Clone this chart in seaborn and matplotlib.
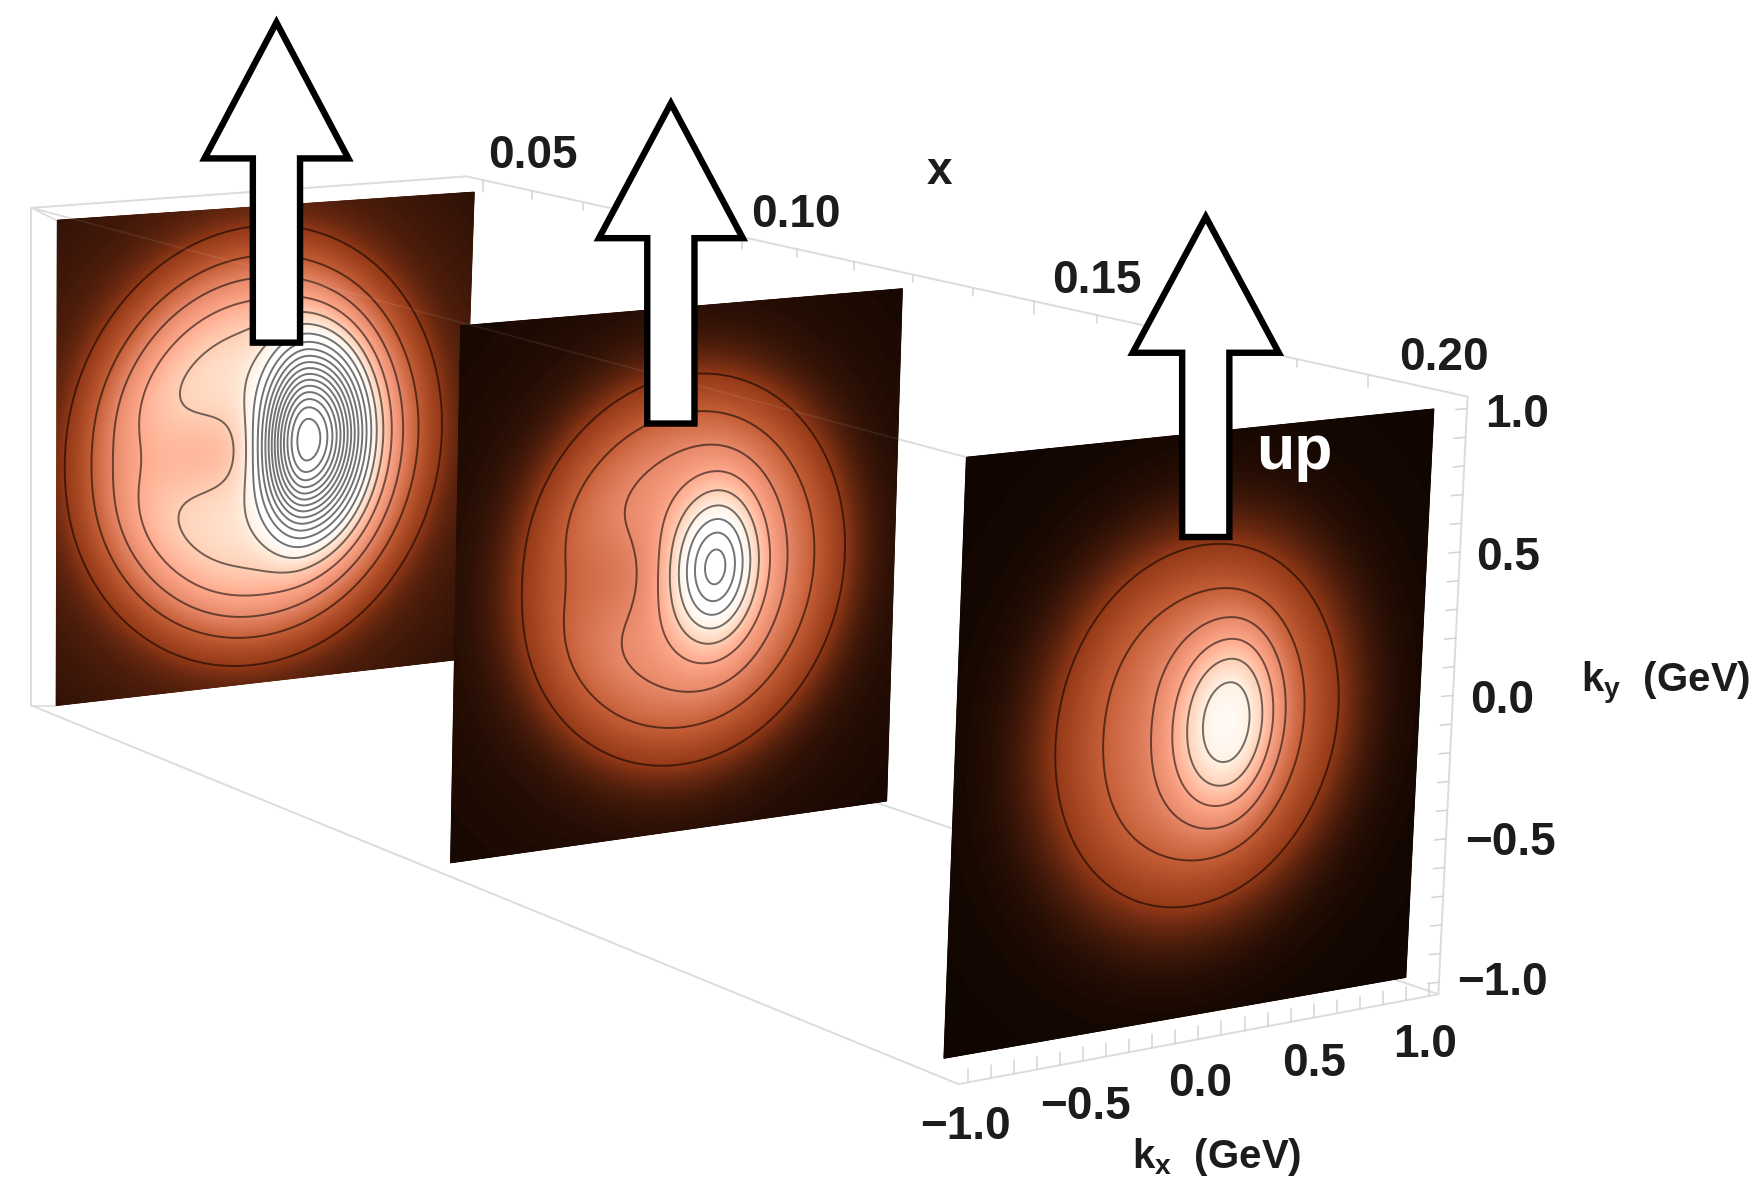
import numpy as np
import matplotlib
matplotlib.use("Agg")
import matplotlib.pyplot as plt
from matplotlib.patches import Polygon
import seaborn as sns

# ---- text ----
x_labels = ["0.05", "0.10", "0.15", "0.20"]
k_labels = ["\u22121.0", "\u22120.5", "0.0", "0.5", "1.0"]

# ---- estimated surface parameters per slice (read from the contour rings) ----
base_amp   = [4.8,  3.0,  2.8]
base_width = [0.76, 0.68, 0.58]
base_pow   = [4.5,  4.0,  3.0]
base_kx    = [-0.045, 0.02, 0.015]
tail_amp   = [1.0,  0.5,  0.3]
tail_width = [1.2,  1.0,  0.8]
peak_amp   = [14.0, 6.0,  3.6]
peak_kx    = [0.205, 0.16, 0.15]
peak_ky    = [0.02, 0.0,  0.0]
peak_left  = [0.20, 0.19, 0.23]
peak_right = [0.25, 0.18, 0.20]
peak_up    = [0.34, 0.26, 0.29]
peak_pow   = [2.3,  1.9,  2.4]
dip_amp    = [1.3,  0.75, 0.30]
dip_kx     = [-0.30, -0.30, -0.25]
dip_wx     = [0.33, 0.28, 0.30]
dip_wy     = [0.20, 0.22, 0.30]
levels = np.arange(1, 26)

# ---- layout, in reference pixels (1568 wide view) ----
panel_corners = [
    [(51, 196), (422, 171), (408, 587), (50, 628)],
    [(410, 290), (803, 257), (789, 713), (401, 768)],
    [(860, 407), (1276, 364), (1251, 870), (840, 942)],
]
arrows = [(246, 20, 141, 64, 21, 305), (597, 92, 212, 64, 21, 377), (1073, 193, 314, 65, 21, 478)]

sns.set_theme(style="white")
plt.rcParams["font.family"] = ["Liberation Sans", "DejaVu Sans"]
plt.rcParams["mathtext.fontset"] = "custom"
plt.rcParams["mathtext.bf"] = "Liberation Sans:bold"
plt.rcParams["mathtext.rm"] = "Liberation Sans"

cmap = sns.blend_palette(["#100500", "#963a18", "#c65f38", "#e8896a", "#ffa98c",
                          "#ffd0b6", "#fff1e2", "#ffffff", "#ffffff"], n_colors=256, as_cmap=True)

fig = plt.figure(figsize=(17.62, 11.83), dpi=100, facecolor="white")
ax = fig.add_axes([0, 0, 1, 1])
ax.set_xlim(0, 1568)
ax.set_ylim(1053, 0)
ax.axis("off")


def homography(corners):
    src = [(-1, 1), (1, 1), (1, -1), (-1, -1)]
    A, b = [], []
    for (u, v), (px, py) in zip(src, corners):
        A.append([u, v, 1, 0, 0, 0, -u * px, -v * px]); b.append(px)
        A.append([0, 0, 0, u, v, 1, -u * py, -v * py]); b.append(py)
    return np.append(np.linalg.solve(np.array(A, float), np.array(b, float)), 1).reshape(3, 3)


def surface(i, kx, ky):
    r = np.hypot(kx - base_kx[i], ky)
    base = base_amp[i] * np.exp(-(r / base_width[i]) ** base_pow[i])
    tail = tail_amp[i] * np.exp(-(r / tail_width[i]) ** 2)
    dx = kx - peak_kx[i]
    sx = np.where(dx < 0, peak_left[i], peak_right[i])
    rho = np.sqrt((dx / sx) ** 2 + ((ky - peak_ky[i]) / peak_up[i]) ** 2)
    peak = peak_amp[i] * np.exp(-rho ** peak_pow[i])
    dip = dip_amp[i] * np.exp(-(((kx - dip_kx[i]) / dip_wx[i]) ** 2 + (ky / dip_wy[i]) ** 2))
    return base + tail + peak - dip


def edge(ax, p, q, **kw):
    ax.plot([p[0], q[0]], [p[1], q[1]], color="#dcdcdc", lw=1.4, solid_capstyle="round", **kw)


# bounding box
BLT, BRT, FRT = (28, 185), (415, 157), (1306, 353)
FRB, FLB, BLB = (1280, 885), (853, 965), (28, 628)
BRB = (415, 590)
for p, q in [(BLT, BRT), (BLT, BLB), (BRT, FRT), (FRT, FRB), (FRB, FLB), (FLB, BLB), (BRB, FRB)]:
    edge(ax, p, q, zorder=1)
ax.plot([BLT[0], 50], [BLT[1], 196], color="#dcdcdc", lw=1.2, zorder=1)
ax.plot([BLB[0], 50], [BLB[1], 628], color="#dcdcdc", lw=1.2, zorder=1)
edge(ax, BLT, (860, 407), zorder=1)

# tick marks along the three labelled edges
for xv in np.arange(0.05, 0.2001, 0.01):
    t = xv - 0.05
    sx = 430 + 4333 * t / (1 - 1.161 * t)
    frac = (sx - BRT[0]) / (FRT[0] - BRT[0])
    sy = BRT[1] + frac * (FRT[1] - BRT[1])
    ln = 11 if abs((xv * 100) % 5) < 0.01 or abs((xv * 100) % 5 - 5) < 0.01 else 7
    ax.plot([sx, sx], [sy, sy + ln], color="#d4d4d4", lw=1.1, zorder=1)
for f in np.linspace(0.02, 0.98, 21):
    sx = FRT[0] + f * (FRB[0] - FRT[0])
    sy = FRT[1] + f * (FRB[1] - FRT[1])
    ax.plot([sx, sx - 10], [sy, sy + 1], color="#d4d4d4", lw=1.1, zorder=1)
    sx = FLB[0] + f * (FRB[0] - FLB[0])
    sy = FLB[1] + f * (FRB[1] - FLB[1])
    ax.plot([sx, sx], [sy, sy - 12], color="#d4d4d4", lw=1.1, zorder=1)

# slices
grid = np.linspace(-1, 1, 401)
KX, KY = np.meshgrid(grid, grid)
for i, corners in enumerate(panel_corners):
    H = homography(corners)
    w = H[2, 0] * KX + H[2, 1] * KY + H[2, 2]
    X = (H[0, 0] * KX + H[0, 1] * KY + H[0, 2]) / w
    Y = (H[1, 0] * KX + H[1, 1] * KY + H[1, 2]) / w
    F = surface(i, KX, KY)
    z = 2 + i
    ax.pcolormesh(X, Y, F, cmap=cmap, vmin=0, vmax=8, shading="gouraud", zorder=z, rasterized=True)
    ax.contour(X, Y, F, levels=levels, colors="black", linewidths=1.4, alpha=0.55, zorder=z + 0.1)

# faint box edge seen through the slices
ax.plot([BLT[0], 860], [BLT[1], 407], color="white", alpha=0.08, lw=1.2, zorder=6)

# arrows
for tx, ty, hy, hw, sw, by in arrows:
    ax.add_patch(Polygon([(tx, ty), (tx + hw, hy), (tx + sw, hy), (tx + sw, by), (tx - sw, by),
                          (tx - sw, hy), (tx - hw, hy)], closed=True, facecolor="white",
                         edgecolor="black", lw=4.6, joinstyle="miter", zorder=8))

# labels
tk = dict(fontsize=33, fontweight="bold", color="#1c1c1c", ha="center", va="center", zorder=9)
for s, (px, py) in zip(x_labels, [(474, 139), (708, 191), (976, 250), (1285, 319)]):
    ax.text(px, py, s, **tk)
for s, (px, py) in zip(k_labels, [(859, 1003), (966, 985), (1068, 965), (1169, 947), (1268, 930)]):
    ax.text(px, py, s, **tk)
for s, (px, py) in zip(k_labels, [(1337, 875), (1344, 750), (1337, 624), (1342, 497), (1350, 369)]):
    ax.text(px, py, s, **tk)
ax.text(836, 153, "x", **tk)
lab = dict(fontsize=29, fontweight="bold", color="#1c1c1c", ha="center", va="center", zorder=9)
ax.text(1083, 1030, r"$\mathbf{k_x}$  (GeV)", **lab)
ax.text(1482, 608, r"$\mathbf{k_y}$  (GeV)", **lab)
ax.text(1152, 403, "up", fontsize=45, fontweight="bold", color="white", ha="center", va="center", zorder=9)

fig.savefig("out.png", dpi=100, facecolor="white")
